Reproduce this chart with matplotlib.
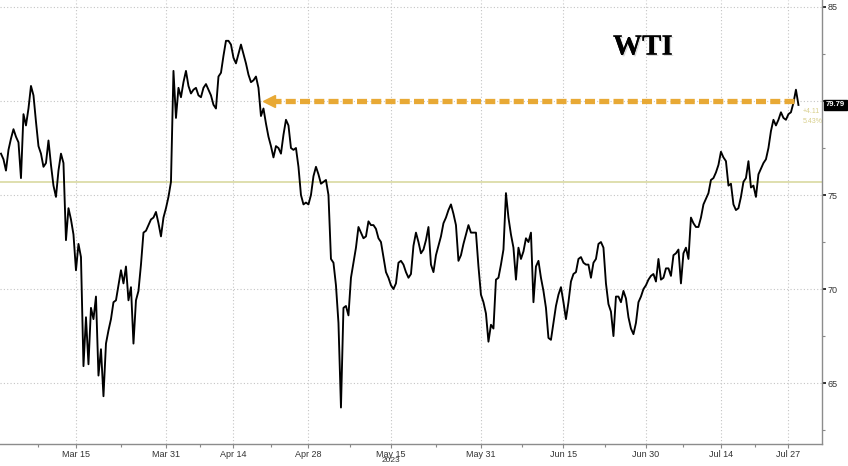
import pandas as pd
import matplotlib
matplotlib.use('Agg')
import matplotlib.pyplot as plt
from matplotlib import patheffects, transforms

# trading sessions shown on the chart (Good Friday closed)
sessions = pd.bdate_range('2023-03-01', '2023-07-28').drop(pd.Timestamp('2023-04-07'))

# WTI front-month, about three intraday readings per session
wti = [
    [77.2, 76.9, 76.3], [77.4, 78.0, 78.5], [78.1, 77.8, 75.9], [79.3, 78.7, 79.6],
    [80.8, 80.3, 78.9], [77.6, 77.2, 76.5], [76.7, 77.9, 76.6], [75.5, 74.9, 76.3],
    [77.2, 76.7, 72.6], [74.3, 73.7, 72.9], [71.0, 72.4, 71.7], [65.9, 68.5, 66.0],
    [69.0, 68.4, 69.6], [65.4, 66.8, 64.3], [67.1, 67.8, 68.4], [69.3, 69.4, 70.2],
    [71.0, 70.3, 71.2], [69.4, 70.1, 67.1], [69.4, 69.9, 71.3], [73.0, 73.1, 73.4],
    [73.7, 73.8, 74.1], [73.5, 72.8, 73.8], [74.3, 74.9, 75.7],
    # April
    [81.6, 79.1, 80.7], [80.2, 81.0, 81.6], [80.8, 80.4, 80.6], [80.7, 80.3, 80.2],
    [80.7, 80.9, 80.6], [80.3, 79.8, 79.6], [81.3, 81.5, 82.4], [83.2, 83.2, 83.0],
    [82.3, 82.0, 82.5], [83.0, 82.5, 82.0], [81.4, 81.0, 81.1], [81.3, 80.7, 79.2],
    [79.6, 78.8, 78.1], [77.6, 77.0, 77.6], [77.5, 77.2, 78.2], [79.0, 78.7, 77.5],
    [77.4, 77.5, 76.5], [75.0, 74.5, 74.6], [74.5, 75.0, 76.0],
    # May
    [76.5, 76.1, 75.6], [75.7, 75.8, 75.0], [71.6, 71.4, 70.2], [68.2, 63.7, 69.0],
    [69.1, 68.6, 70.6], [71.4, 72.2, 73.3], [73.0, 72.7, 72.8], [73.6, 73.4, 73.4],
    [73.2, 72.7, 72.5], [71.7, 70.9, 70.6], [70.2, 70.0, 70.3], [71.4, 71.5, 71.3],
    [70.9, 70.6, 70.8], [72.3, 73.0, 72.5], [71.9, 72.1, 72.6], [73.3, 71.3, 70.9],
    [71.8, 72.3, 72.8], [73.5, 73.8, 74.2], [74.5, 74.0, 73.4], [71.5, 71.8, 72.4],
    [72.9, 73.4, 73.0], [73.0, 73.0, 71.2], [69.7, 69.3, 68.7],
    # June
    [67.2, 68.1, 67.9], [70.5, 70.6, 71.3], [72.1, 75.1, 73.8], [72.9, 72.2, 70.5],
    [72.2, 71.6, 72.0], [72.7, 72.5, 73.0], [69.3, 71.2, 71.5], [70.6, 69.9, 69.0],
    [67.4, 67.3, 68.2], [69.1, 69.7, 70.1], [69.3, 68.4, 69.3], [70.4, 70.8, 70.9],
    [71.6, 71.7, 71.4], [71.3, 71.3, 70.6], [71.4, 71.6, 72.4], [72.5, 72.2, 70.3],
    [69.2, 68.8, 67.5], [69.6, 69.6, 69.3], [69.9, 69.5, 68.5], [67.9, 67.6, 68.2],
    [69.3, 69.6, 70.0], [70.2, 70.5, 70.7],
    # July
    [70.8, 70.4, 71.6], [70.5, 70.6, 71.1], [71.1, 70.7, 71.8], [71.9, 72.1, 70.3],
    [71.9, 72.2, 71.6], [73.8, 73.5, 73.3], [73.3, 73.8, 74.5], [74.8, 75.1, 75.8],
    [75.9, 76.2, 76.6], [77.3, 77.0, 76.8], [75.5, 75.6, 74.5], [74.2, 74.3, 74.9],
    [75.7, 75.9, 76.8], [75.4, 75.5, 74.9], [76.1, 76.4, 76.7], [76.9, 77.5, 78.4],
    [79.0, 78.7, 79.0], [79.4, 79.1, 79.0], [79.3, 79.4, 79.9], [80.6, 79.79],
]

tick_dates = ['2023-03-15', '2023-03-31', '2023-04-14', '2023-04-28', '2023-05-15',
              '2023-05-31', '2023-06-15', '2023-06-30', '2023-07-14', '2023-07-27']
tick_labels = ['Mar 15', 'Mar 31', 'Apr 14', 'Apr 28', 'May 15',
               'May 31', 'Jun 15', 'Jun 30', 'Jul 14', 'Jul 27']
year_label = '2023'
year_date = '2023-05-15'

price_ticks = [65, 70, 75, 80, 85]
price_labels = ['65', '70', '75', '', '85']  # 80 sits under the last-price tag

support_level = 75.7
arrow_level = 80.0
arrow_from = '2023-04-20'
last_price = 79.79
change_lines = ['+4.11', '5.43%']

ORANGE = '#e8a935'
TICKFONT = ['Liberation Sans Narrow', 'Liberation Sans', 'DejaVu Sans']

xs, ys = [], []
for i, day in enumerate(wti):
    for k, v in enumerate(day):
        xs.append(i + k / 3)
        ys.append(v)

def pos(d):
    return sessions.get_loc(pd.Timestamp(d))

fig = plt.figure(figsize=(8.48, 4.66), dpi=100)
ax = fig.add_axes([0.0, 0.0472, 0.9693, 0.9528])

ax.set_xlim(-0.13, 109.47)
ax.set_ylim(61.76, 85.37)

# grid
for t in tick_dates:
    ax.axvline(pos(t), color='#c4c4c4', lw=0.8, ls=(0, (1, 2)), zorder=0)
for lv in price_ticks:
    ax.axhline(lv, color='#c4c4c4', lw=0.8, ls=(0, (1, 2)), zorder=0)

ax.axhline(support_level, color='#dcdca8', lw=1.3, zorder=1)

ax.plot(xs, ys, color='black', lw=1.35, zorder=3)

# dashed arrow back to the April level
x0 = pos(arrow_from)
ax.plot([x0 + 1.0, xs[-1] - 0.3], [arrow_level, arrow_level], color=ORANGE, lw=3.8,
        dashes=(1.9, 0.8), zorder=4)
ax.plot([x0 + 0.7], [arrow_level], marker='<', ms=8, color=ORANGE, mec=ORANGE, zorder=4)

ax.text(0.782, 0.894, 'WTI', transform=ax.transAxes, ha='center', va='center',
        fontsize=21, fontweight='bold', family='Liberation Serif', color='black',
        path_effects=[patheffects.withSimplePatchShadow(offset=(1, -1),
                                                        shadow_rgbFace='#999999', alpha=0.35),
                      patheffects.Normal()])

# last price tag and change
trans = transforms.blended_transform_factory(ax.transAxes, ax.transData)
ax.annotate(f'{last_price:.2f}', xy=(1.0, last_price), xycoords=trans,
            xytext=(3, 0), textcoords='offset points', ha='left', va='center',
            fontsize=5.5, color='white', family=TICKFONT, fontweight='bold',
            bbox=dict(boxstyle='square,pad=0.25', fc='black', ec='black'),
            annotation_clip=False, zorder=6)
for j, s in enumerate(change_lines):
    ax.annotate(s, xy=(1.0, last_price), xycoords=trans,
                xytext=(-14, -5 - 7 * j), textcoords='offset points', ha='left', va='center',
                fontsize=5, color='#d8cf8c', family=TICKFONT, zorder=2)

# axes styling
for side in ['left', 'top']:
    ax.spines[side].set_visible(False)
for side in ['right', 'bottom']:
    ax.spines[side].set_color('#8c8c8c')
    ax.spines[side].set_linewidth(1.0)

ax.yaxis.tick_right()
ax.set_yticks(price_ticks)
ax.set_yticklabels(price_labels)
ax.set_yticks([62.5, 67.5, 72.5, 77.5, 82.5], minor=True)
ax.tick_params(axis='y', which='major', direction='out', length=3, width=1.3,
               color='#222222', labelsize=6.5, labelcolor='#333333', pad=1)
ax.tick_params(axis='y', which='minor', direction='out', length=2, width=0.8, color='#888888')

ax.set_xticks([pos(t) for t in tick_dates])
ax.set_xticklabels(tick_labels)
mids = [(pos(a) + pos(b)) / 2 for a, b in zip(tick_dates[:-1], tick_dates[1:])]
ax.set_xticks([pos(tick_dates[0]) - 5] + mids, minor=True)
ax.tick_params(axis='x', which='major', direction='out', length=3, width=0.8,
               color='#888888', labelsize=6.5, labelcolor='#333333', pad=1)
ax.tick_params(axis='x', which='minor', direction='out', length=2, width=0.8, color='#888888')
for lab in ax.get_xticklabels() + ax.get_yticklabels():
    lab.set_family(TICKFONT)

ax.annotate(year_label, xy=(pos(year_date), 0), xycoords=('data', 'axes fraction'),
            xytext=(0, -12), textcoords='offset points', ha='center', va='center',
            fontsize=6, color='#333333', family=TICKFONT, annotation_clip=False)

fig.savefig('out.png', dpi=100)
